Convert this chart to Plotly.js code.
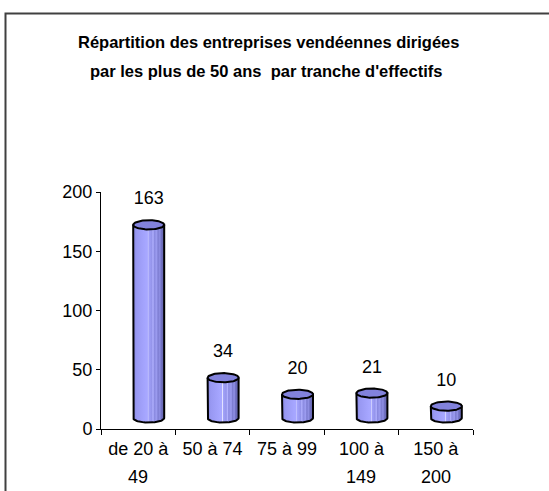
<!DOCTYPE html>
<html>
<head>
<meta charset="utf-8">
<script src="https://cdn.plot.ly/plotly-3.0.1.min.js"></script>
<style>html,body{margin:0;padding:0;background:#fff;}</style>
</head>
<body>
<div id="chart" style="width:549px;height:491px;"></div>
<script>
// ---- data ----
var categories = ['de 20 à<br>49', '50 à 74', '75 à 99', '100 à<br>149', '150 à<br>200'];
var values = [163, 34, 20, 21, 10];
var yTickVals = [0, 50, 100, 150, 200];
var titleLines = ['Répartition des entreprises vendéennes dirigées', 'par les plus de 50 ans  par tranche d\'effectifs'];

// ---- geometry (pixels) ----
var W = 549, H = 491;
var mL = 101, mR = 76, mT = 192, mB = 62;
var plotW = W - mL - mR, plotH = H - mT - mB;
var yMax = 200;
var pxPerCat = plotW / categories.length;
var pxPerUnit = plotH / yMax;
var depthX = 10.5, depthY = 11;     // 3D depth offset
var halfW = 15.5 / pxPerCat;        // cylinder half width (category units)
var ry = 4.6 / pxPerUnit;           // ellipse half height (value units)
var FONT = '"Liberation Sans", Arial, sans-serif';
var FS = 18;

var grad = [[0,'#8484dc'],[0.1,'#9898f2'],[0.4,'#a6a6ff'],[0.46,'#a8a8ff'],[0.48,'#e4e4ff'],[0.5,'#a2a2fa'],
            [0.6,'#9494ea'],[0.64,'#b2b2ff'],[0.68,'#8a8ae0'],[0.76,'#9c9cf0'],[0.8,'#7c7cd0'],[0.86,'#9090e4'],
            [0.9,'#7272c4'],[1,'#6262a8']];

var traces = [];
// invisible trace to establish the category axis
traces.push({type:'scatter', x: categories, y: values, mode:'markers', marker:{opacity:0},
             hoverinfo:'skip', showlegend:false, xaxis:'x', yaxis:'y'});

var N = 40;
values.forEach(function(v, i) {
  var bx = [], by = [];
  bx.push(i - halfW); by.push(v);
  for (var k = 0; k <= N; k++) {
    var t = Math.PI + Math.PI * k / N;
    bx.push(i + halfW * Math.cos(t)); by.push(ry * Math.sin(t));
  }
  bx.push(i + halfW); by.push(v);
  bx.push(i - halfW); by.push(v);
  traces.push({type:'scatter', x: bx, y: by, mode:'lines', fill:'toself',
               fillgradient:{type:'horizontal', colorscale: grad},
               line:{color:'#000', width:2}, hoverinfo:'skip', showlegend:false,
               xaxis:'x2', yaxis:'y2'});
  var ex = [], ey = [];
  for (var k2 = 0; k2 <= 2*N; k2++) {
    var t2 = 2 * Math.PI * k2 / (2*N);
    ex.push(i + halfW * Math.cos(t2)); ey.push(v + ry * Math.sin(t2));
  }
  traces.push({type:'scatter', x: ex, y: ey, mode:'lines', fill:'toself', fillcolor:'#8282dc',
               line:{color:'#000', width:2}, hoverinfo:'skip', showlegend:false,
               xaxis:'x2', yaxis:'y2'});
});

// value labels
var labelGap = 21;
traces.push({type:'scatter', x: values.map(function(v,i){return i;}), y: values.map(function(v){return v + labelGap;}),
             mode:'text', text: values.map(String), textposition:'middle center',
             textfont:{family:FONT, size:FS, color:'#000'}, hoverinfo:'skip', showlegend:false,
             xaxis:'x2', yaxis:'y2', cliponaxis:false});

function px2paperX(p){ return (p - mL) / plotW; }
function px2paperY(p){ return (H - mB - p) / plotH; }

// category labels: first line as tick label, second line as annotation (wider line spacing)
var firstLines = categories.map(function(c){ return c.split('<br>')[0]; });
var annotations = [
  {xref:'paper', yref:'paper', x: px2paperX(268), y: px2paperY(42), xanchor:'center', yanchor:'middle',
   text:'<b>' + titleLines[0] + '</b>', showarrow:false, font:{family:FONT, size:16.5, color:'#000'}},
  {xref:'paper', yref:'paper', x: px2paperX(266), y: px2paperY(71), xanchor:'center', yanchor:'middle',
   text:'<b>' + titleLines[1] + '</b>', showarrow:false, font:{family:FONT, size:16.5, color:'#000'}}
];
categories.forEach(function(c){
  var parts = c.split('<br>');
  if (parts.length > 1) {
    annotations.push({xref:'x', yref:'paper', x: c, y: px2paperY(477), xanchor:'center', yanchor:'middle',
      text: parts[1], showarrow:false, font:{family:FONT, size:FS, color:'#000'}});
  }
});

var layout = {
  width: W, height: H,
  margin: {l: mL, r: mR, t: mT, b: mB, pad: 0},
  paper_bgcolor: '#fff', plot_bgcolor: 'rgba(0,0,0,0)',
  showlegend: false,
  font: {family: FONT, size: FS, color: '#000'},
  xaxis: {type:'category', categoryorder:'array', categoryarray: categories, range:[-0.5, categories.length - 0.5],
          tickvals: categories, ticktext: firstLines, tickangle: 0, automargin:false, ticklabelstandoff: 3,
          showline:true, linecolor:'#000', linewidth:1, ticks:'outside', tickson:'boundaries',
          ticklen:5, tickcolor:'#000', showgrid:false, zeroline:false, fixedrange:true,
          tickfont:{family:FONT, size:FS, color:'#000'}},
  yaxis: {range:[0, yMax], tickvals: yTickVals, showline:true, linecolor:'#000', linewidth:1,
          ticks:'outside', ticklen:4, tickcolor:'#000', showgrid:false, zeroline:false, fixedrange:true,
          automargin:false, tickfont:{family:FONT, size:FS, color:'#000'}},
  xaxis2: {overlaying:'x', range:[-0.5 - depthX/pxPerCat, categories.length - 0.5 - depthX/pxPerCat],
           visible:false, fixedrange:true},
  yaxis2: {overlaying:'y', range:[-depthY/pxPerUnit, yMax - depthY/pxPerUnit], visible:false, fixedrange:true},
  annotations: annotations,
  shapes: [
    {type:'rect', xref:'paper', yref:'paper', x0: px2paperX(5.5), x1: px2paperX(600),
     y0: px2paperY(13.5), y1: px2paperY(560), line:{color:'#404040', width:2}, fillcolor:'rgba(0,0,0,0)'}
  ]
};

Plotly.newPlot('chart', traces, layout, {staticPlot:true, displayModeBar:false});
</script>
</body>
</html>
